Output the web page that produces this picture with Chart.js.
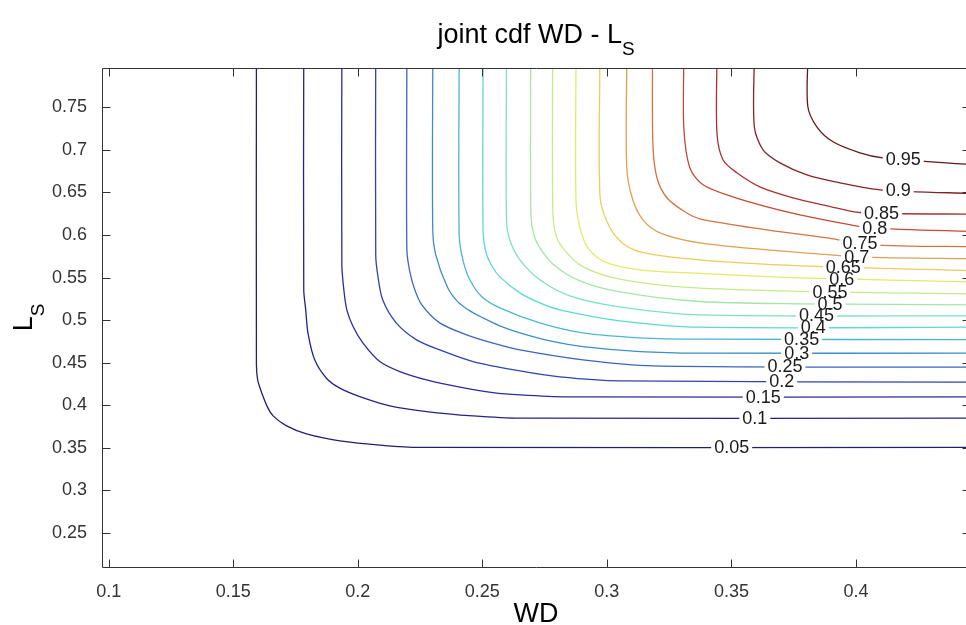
<!DOCTYPE html>
<html>
<head>
<meta charset="utf-8">
<title>joint cdf WD - LS</title>
<script src="https://cdn.jsdelivr.net/npm/chart.js@4/dist/chart.umd.min.js"></script>
<style>
  html, body { margin: 0; padding: 0; background: #fff; overflow: hidden; }
  #wrap { position: relative; width: 980px; height: 625px; }
  canvas { display: block; }
</style>
</head>
<body>
<div id="wrap"><canvas id="cdf" width="980" height="625"></canvas></div>
<script>
// Tick values on both axes
const xTicks = [0.1, 0.15, 0.2, 0.25, 0.3, 0.35, 0.4];
const yTicks = [0.25, 0.3, 0.35, 0.4, 0.45, 0.5, 0.55, 0.6, 0.65, 0.7, 0.75];

// Contour levels of the joint cdf
const levels = [0.05, 0.1, 0.15, 0.2, 0.25, 0.3, 0.35, 0.4, 0.45, 0.5,
                0.55, 0.6, 0.65, 0.7, 0.75, 0.8, 0.85, 0.9, 0.95];

// Contour paths: WD and L_S coordinates of each iso-line
const wd05 = [0.1593, 0.1593, 0.1598, 0.1613, 0.1639, 0.1660, 0.1714, 0.1794, 0.1928, 0.2100, 0.2249, 0.4500];
const ls05 = [0.8100, 0.4473, 0.4296, 0.4155, 0.3967, 0.3873, 0.3755, 0.3661, 0.3579, 0.3526, 0.3502, 0.3502];

const wd10 = [0.1783, 0.1783, 0.1791, 0.1800, 0.1827, 0.1874, 0.1928, 0.2008, 0.2129, 0.2276, 0.2463, 0.2651, 0.4500];
const ls10 = [0.8100, 0.5355, 0.5120, 0.4846, 0.4532, 0.4316, 0.4199, 0.4100, 0.3991, 0.3924, 0.3873, 0.3846, 0.3846];

const wd15 = [0.1936, 0.1936, 0.1944, 0.1956, 0.1981, 0.2021, 0.2088, 0.2169, 0.2276, 0.2410, 0.2543, 0.2651, 0.2839, 0.4500];
const ls15 = [0.8100, 0.5649, 0.5355, 0.5120, 0.4924, 0.4728, 0.4512, 0.4394, 0.4296, 0.4211, 0.4147, 0.4120, 0.4097, 0.4097];

const wd20 = [0.2072, 0.2072, 0.2080, 0.2100, 0.2155, 0.2236, 0.2329, 0.2463, 0.2651, 0.2811, 0.3052, 0.4500];
const ls20 = [0.8100, 0.5767, 0.5532, 0.5238, 0.4964, 0.4767, 0.4649, 0.4512, 0.4402, 0.4332, 0.4285, 0.4269];

const wd25 = [0.2197, 0.2197, 0.2209, 0.2229, 0.2257, 0.2329, 0.2437, 0.2543, 0.2651, 0.2904, 0.3185, 0.4500];
const ls25 = [0.8100, 0.5826, 0.5567, 0.5355, 0.5179, 0.4967, 0.4826, 0.4728, 0.4649, 0.4532, 0.4461, 0.4446];

const wd30 = [0.2301, 0.2301, 0.2313, 0.2361, 0.2402, 0.2450, 0.2502, 0.2570, 0.2651, 0.2771, 0.2904, 0.3133, 0.3373, 0.4500];
const ls30 = [0.8100, 0.6061, 0.5767, 0.5379, 0.5214, 0.5108, 0.5026, 0.4932, 0.4849, 0.4755, 0.4688, 0.4629, 0.4611, 0.4611];

const wd35 = [0.2407, 0.2407, 0.2422, 0.2450, 0.2498, 0.2570, 0.2731, 0.2904, 0.3133, 0.3373, 0.4500];
const ls35 = [0.8100, 0.6002, 0.5708, 0.5473, 0.5273, 0.5144, 0.4967, 0.4849, 0.4791, 0.4775, 0.4770];

const wd40 = [0.2503, 0.2503, 0.2514, 0.2538, 0.2570, 0.2651, 0.2731, 0.2811, 0.3052, 0.3373, 0.4500];
const ls40 = [0.8100, 0.6037, 0.5803, 0.5638, 0.5508, 0.5320, 0.5202, 0.5120, 0.4991, 0.4916, 0.4916];

const wd45 = [0.2597, 0.2597, 0.2610, 0.2651, 0.2731, 0.2851, 0.3052, 0.3373, 0.4500];
const ls45 = [0.8100, 0.6179, 0.5944, 0.5708, 0.5473, 0.5285, 0.5155, 0.5061, 0.5049];

const wd50 = [0.2694, 0.2695, 0.2707, 0.2731, 0.2791, 0.2892, 0.3052, 0.3373, 0.3775, 0.4500];
const ls50 = [0.8100, 0.6238, 0.6002, 0.5849, 0.5638, 0.5461, 0.5332, 0.5218, 0.5191, 0.5179];

const wd55 = [0.2782, 0.2783, 0.2795, 0.2823, 0.2892, 0.3012, 0.3173, 0.3373, 0.3775, 0.4500];
const ls55 = [0.8100, 0.6285, 0.6002, 0.5849, 0.5649, 0.5508, 0.5426, 0.5375, 0.5338, 0.5305];

const wd60 = [0.2876, 0.2876, 0.2892, 0.2924, 0.2992, 0.3133, 0.3373, 0.3775, 0.4500];
const ls60 = [0.8100, 0.6402, 0.6085, 0.5849, 0.5685, 0.5591, 0.5549, 0.5496, 0.5446];

const wd65 = [0.2972, 0.2972, 0.2999, 0.3052, 0.3133, 0.3373, 0.3775, 0.4500];
const ls65 = [0.8100, 0.6473, 0.6167, 0.5932, 0.5802, 0.5708, 0.5638, 0.5579];

const wd70 = [0.3080, 0.3080, 0.3104, 0.3145, 0.3213, 0.3373, 0.3695, 0.4016, 0.4500];
const ls70 = [0.8100, 0.6791, 0.6414, 0.6179, 0.6026, 0.5908, 0.5814, 0.5744, 0.5720];

const wd75 = [0.3183, 0.3185, 0.3201, 0.3241, 0.3313, 0.3373, 0.3643, 0.3908, 0.4056, 0.4500];
const ls75 = [0.8100, 0.7061, 0.6673, 0.6438, 0.6273, 0.6191, 0.6061, 0.5955, 0.5885, 0.5861];

const wd80 = [0.3309, 0.3309, 0.3333, 0.3386, 0.3506, 0.3643, 0.3775, 0.3936, 0.4056, 0.4500];
const ls80 = [0.8100, 0.7261, 0.6791, 0.6591, 0.6449, 0.6332, 0.6238, 0.6144, 0.6085, 0.6038];

const wd85 = [0.3442, 0.3442, 0.3466, 0.3522, 0.3614, 0.3747, 0.3884, 0.4016, 0.4500];
const ls85 = [0.8100, 0.7202, 0.6885, 0.6732, 0.6567, 0.6438, 0.6344, 0.6265, 0.6244];

const wd90 = [0.3592, 0.3592, 0.3627, 0.3695, 0.3803, 0.3936, 0.4096, 0.4500];
const ls90 = [0.8100, 0.7273, 0.7002, 0.6849, 0.6708, 0.6614, 0.6532, 0.6485];

const wd95 = [0.3807, 0.3807, 0.3843, 0.3908, 0.4016, 0.4108, 0.4500];
const ls95 = [0.8100, 0.7508, 0.7273, 0.7096, 0.6967, 0.6908, 0.6820];

// WD position of each inline level label
const labelWD = [0.3501, 0.3594, 0.3628, 0.3702, 0.3715, 0.3762, 0.3782, 0.3829, 0.3842, 0.3896,
                 0.3896, 0.3943, 0.3949, 0.4003, 0.4016, 0.4076, 0.4103, 0.4170, 0.4190];

const contourWD = [wd05, wd10, wd15, wd20, wd25, wd30, wd35, wd40, wd45, wd50,
                   wd55, wd60, wd65, wd70, wd75, wd80, wd85, wd90, wd95];
const contourLS = [ls05, ls10, ls15, ls20, ls25, ls30, ls35, ls40, ls45, ls50,
                   ls55, ls60, ls65, ls70, ls75, ls80, ls85, ls90, ls95];

// jet-like line colours, low to high level
const lineColors = [
  '#20206c', '#242486', '#2a2c9e', '#2e44ae', '#3a66bc', '#3c8ec6', '#48b8d2',
  '#5cd8d6', '#7ee2c2', '#a4e6a4', '#c6ea88', '#e2ea6a', '#eccc5a', '#e0a04e',
  '#d27444', '#c24c36', '#a83030', '#862424', '#621a1a'
];

const FONT = '"Liberation Sans", Arial, Helvetica, sans-serif';

function lsAt(wds, lss, w) {
  for (let i = 1; i < wds.length; i++) {
    if (wds[i] >= w && wds[i - 1] <= w && wds[i] > wds[i - 1]) {
      const t = (w - wds[i - 1]) / (wds[i] - wds[i - 1]);
      return lss[i - 1] + t * (lss[i] - lss[i - 1]);
    }
  }
  return lss[lss.length - 1];
}

const datasets = levels.map((lv, i) => ({
  label: String(lv),
  data: contourWD[i].map((w, j) => ({ x: w, y: contourLS[i][j] })),
  borderColor: lineColors[i],
  borderWidth: 1.3,
  pointRadius: 0,
  pointHoverRadius: 0,
  showLine: true,
  fill: false,
  tension: 0.3
}));

// Box, inward tick marks, inline level labels, title and axis labels
const decorPlugin = {
  id: 'decor',
  afterDatasetsDraw(chart) {
    const { ctx, chartArea: a, scales: { x, y } } = chart;
    ctx.save();

    // inline labels: white gaps first, then the texts
    ctx.font = '18px ' + FONT;
    const items = levels.map((lv, i) => {
      const w = labelWD[i];
      const v = lsAt(contourWD[i], contourLS[i], w);
      const text = String(lv);
      return { text, px: x.getPixelForValue(w), py: y.getPixelForValue(v), tw: ctx.measureText(text).width };
    });
    ctx.fillStyle = '#ffffff';
    items.forEach(it => ctx.fillRect(it.px - it.tw / 2 - 3, it.py - 4, it.tw + 6, 8));
    ctx.fillStyle = '#1a1a1a';
    ctx.textAlign = 'center';
    ctx.textBaseline = 'middle';
    items.forEach(it => ctx.fillText(it.text, it.px, it.py + 1));

    // axes box
    const L = Math.round(a.left) + 0.5, R = Math.round(a.right) + 0.5;
    const T = Math.round(a.top) + 0.5, B = Math.round(a.bottom) + 0.5;
    ctx.strokeStyle = '#333333';
    ctx.lineWidth = 1;
    ctx.beginPath();
    ctx.moveTo(L, T); ctx.lineTo(R, T); ctx.lineTo(R, B); ctx.lineTo(L, B); ctx.closePath();
    const tl = 8;
    xTicks.forEach(v => {
      const px = Math.round(x.getPixelForValue(v)) + 0.5;
      ctx.moveTo(px, B); ctx.lineTo(px, B - tl);
      ctx.moveTo(px, T); ctx.lineTo(px, T + tl);
    });
    yTicks.forEach(v => {
      const py = Math.round(y.getPixelForValue(v)) + 0.5;
      ctx.moveTo(L, py); ctx.lineTo(L + tl, py);
      ctx.moveTo(R, py); ctx.lineTo(R - tl, py);
    });
    ctx.stroke();
    ctx.restore();
  },
  afterDraw(chart) {
    const { ctx, chartArea: a } = chart;
    const cx = (a.left + a.right) / 2;
    const cy = (a.top + a.bottom) / 2;
    ctx.save();
    ctx.fillStyle = '#000000';
    ctx.textBaseline = 'alphabetic';
    ctx.textAlign = 'left';

    // title with subscript
    ctx.font = '27px ' + FONT;
    const tMain = 'joint cdf WD - L';
    const w1 = ctx.measureText(tMain).width;
    ctx.font = '19px ' + FONT;
    const w2 = ctx.measureText('S').width;
    const x0 = cx - (w1 + w2) / 2;
    ctx.font = '27px ' + FONT;
    ctx.fillText(tMain, x0, 43);
    ctx.font = '19px ' + FONT;
    ctx.fillText('S', x0 + w1, 55);

    // x axis label
    ctx.font = '27px ' + FONT;
    ctx.textAlign = 'center';
    ctx.fillText('WD', cx, 622);

    // y axis label with subscript, rotated
    ctx.textAlign = 'left';
    ctx.font = '27px ' + FONT;
    const yw1 = ctx.measureText('L').width;
    ctx.font = '19px ' + FONT;
    const yw2 = ctx.measureText('S').width;
    ctx.translate(32, cy);
    ctx.rotate(-Math.PI / 2);
    const s0 = -(yw1 + yw2) / 2;
    ctx.font = '27px ' + FONT;
    ctx.fillText('L', s0, 0);
    ctx.font = '19px ' + FONT;
    ctx.fillText('S', s0 + yw1, 12);
    ctx.restore();
  }
};

new Chart(document.getElementById('cdf'), {
  type: 'scatter',
  data: { datasets },
  options: {
    responsive: false,
    animation: false,
    devicePixelRatio: 1,
    layout: { padding: { top: 68, right: 10, left: 0, bottom: 0 } },
    plugins: { legend: { display: false }, tooltip: { enabled: false }, title: { display: false } },
    scales: {
      x: {
        type: 'linear',
        min: 0.0973,
        max: 0.4458,
        grid: { display: false },
        border: { display: false },
        afterBuildTicks: s => { s.ticks = xTicks.map(v => ({ value: v })); },
        afterFit: s => { s.height = 58; },
        ticks: {
          autoSkip: false, maxRotation: 0, padding: 6,
          color: '#333333', font: { family: FONT, size: 18 },
          callback: v => String(v)
        }
      },
      y: {
        type: 'linear',
        min: 0.2096,
        max: 0.7964,
        grid: { display: false },
        border: { display: false },
        afterBuildTicks: s => { s.ticks = yTicks.map(v => ({ value: v })); },
        afterFit: s => { s.width = 102; },
        ticks: {
          autoSkip: false, padding: 7,
          color: '#333333', font: { family: FONT, size: 18 },
          callback: v => String(v)
        }
      }
    }
  },
  plugins: [decorPlugin]
});
</script>
</body>
</html>
